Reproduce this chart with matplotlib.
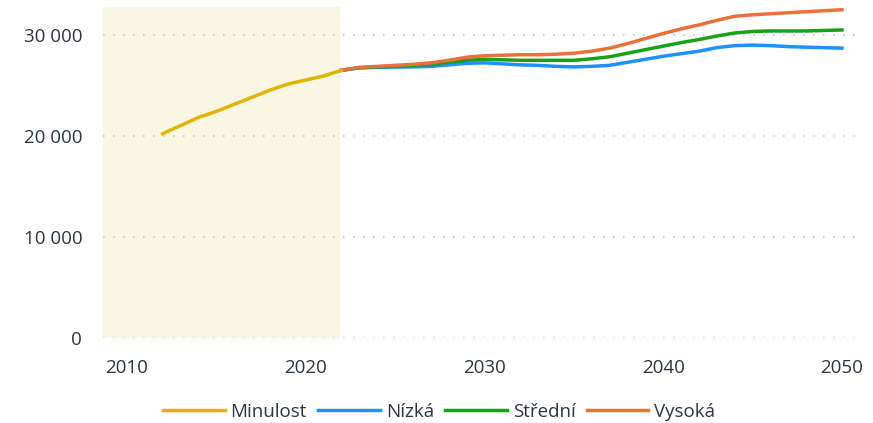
import numpy as np
import matplotlib.pyplot as plt
from matplotlib.ticker import FuncFormatter

plt.rcParams['font.family'] = ['Open Sans', 'DejaVu Sans']

# Data
roky_minulost = list(range(2012, 2023))
minulost = [20200, 21000, 21800, 22400, 23100, 23800, 24500, 25100, 25500, 25900, 26460]

roky_proj = list(range(2022, 2051))
nizka = [26460, 26700, 26750, 26780, 26800, 26850, 27000, 27150, 27200, 27100,
         27000, 26950, 26850, 26800, 26850, 26950, 27250, 27550, 27850, 28100,
         28350, 28700, 28900, 28950, 28900, 28800, 28750, 28700, 28650]
stredni = [26460, 26720, 26800, 26850, 26950, 27050, 27250, 27450, 27550, 27500,
           27450, 27450, 27450, 27450, 27600, 27800, 28150, 28500, 28850, 29200,
           29500, 29850, 30150, 30300, 30350, 30350, 30350, 30400, 30450]
vysoka = [26460, 26750, 26850, 26950, 27050, 27200, 27450, 27750, 27900, 27950,
          28000, 28000, 28050, 28150, 28350, 28650, 29100, 29600, 30100, 30550,
          30950, 31400, 31800, 31950, 32050, 32150, 32250, 32350, 32450]

fig = plt.figure(figsize=(8.73, 4.23), dpi=100)
ax = fig.add_axes([0.118, 0.201, 0.869, 0.782])

ax.axvspan(2008.66, 2021.9, color='#faf6e4', zorder=0, lw=0)

ax.plot(roky_proj, nizka, color='#1e90ff', lw=2.5, label='Nízká', zorder=3)
ax.plot(roky_proj, stredni, color='#1aa01a', lw=2.5, label='Střední', zorder=4)
ax.plot(roky_proj, vysoka, color='#e8703a', lw=2.5, label='Vysoká', zorder=5)
ax.plot(roky_minulost, minulost, color='#e0b400', lw=2.5, label='Minulost', zorder=6)

ax.set_xlim(2008.66, 2051.1)
ax.set_ylim(0, 32700)
ax.set_xticks([2010, 2020, 2030, 2040, 2050])
ax.set_yticks([0, 10000, 20000, 30000])
ax.yaxis.set_major_formatter(FuncFormatter(lambda v, p: f'{int(v):,}'.replace(',', ' ')))
ax.grid(axis='y', color='#c8c8c8', linestyle=(0, (1, 5)), lw=1.2)
ax.set_axisbelow(True)
for s in ax.spines.values():
    s.set_visible(False)
ax.tick_params(axis='x', length=0, labelsize=13.5, colors='#2e3440', pad=15)
ax.tick_params(axis='y', length=0, labelsize=13.5, colors='#2e3440', pad=15)

h, l = ax.get_legend_handles_labels()
order = [3, 0, 1, 2]
fig.legend([h[i] for i in order], [l[i] for i in order], loc='lower center',
           ncol=4, frameon=False, fontsize=13.5, handlelength=3.3,
           handletextpad=0.3, columnspacing=0.6, bbox_to_anchor=(0.503, -0.035),
           labelcolor='#2e3440')

fig.savefig('out.png', dpi=100)
